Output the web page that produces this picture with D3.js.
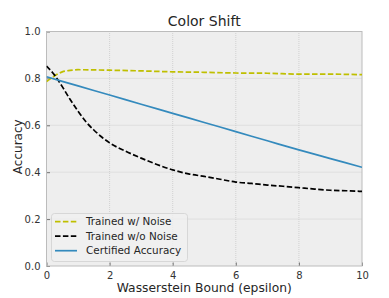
<!DOCTYPE html>
<html>
<head>
<meta charset="utf-8">
<script src="https://cdn.jsdelivr.net/npm/d3@7"></script>
<style>
  body { margin: 0; background: #fff; }
  text { font-family: "DejaVu Sans", sans-serif; fill: #262626; }
</style>
</head>
<body>
<script>
// values
var epsNoise = [0, 0.25, 0.5, 0.75, 1, 2, 3, 4, 5, 6, 7, 8, 9, 10];
var accNoise = [0.786, 0.81, 0.828, 0.834, 0.837, 0.835, 0.832, 0.828, 0.826, 0.823, 0.822, 0.818, 0.818, 0.816];

var epsPlain = [0, 0.25, 0.5, 0.75, 1, 1.25, 1.5, 1.75, 2, 2.5, 3, 3.5, 4, 4.5, 5, 5.5, 6, 6.5, 7, 7.5, 8, 8.5, 9, 9.5, 10];
var accPlain = [0.853, 0.815, 0.765, 0.71, 0.66, 0.615, 0.58, 0.55, 0.525, 0.49, 0.46, 0.433, 0.41, 0.393, 0.382, 0.37, 0.358, 0.352, 0.345, 0.34, 0.334, 0.328, 0.323, 0.321, 0.318];

var epsCert = [0, 1, 2, 3, 4, 5, 6, 7, 8, 9, 10];
var accCert = [0.807, 0.768, 0.729, 0.690, 0.651, 0.612, 0.573, 0.534, 0.495, 0.458, 0.421];

var xTicks = [0, 2, 4, 6, 8, 10];
var yTicks = [0, 0.2, 0.4, 0.6, 0.8, 1.0];

var seriesNames = ["Trained w/ Noise", "Trained w/o Noise", "Certified Accuracy"];

var width = 389, height = 298;
var margin = {top: 31.5, right: 27, bottom: 32, left: 46.5};

var svg = d3.select("body").append("svg")
    .attr("width", width)
    .attr("height", height);

var x = d3.scaleLinear().domain([0, 10]).range([margin.left, width - margin.right]);
var y = d3.scaleLinear().domain([0, 1]).range([height - margin.bottom, margin.top]);

// plot background
svg.append("rect")
    .attr("x", x(0)).attr("y", y(1))
    .attr("width", x(10) - x(0)).attr("height", y(0) - y(1))
    .attr("fill", "#eeeeee");

// grid
svg.append("g").selectAll("line").data(xTicks.slice(1, -1)).enter().append("line")
    .attr("x1", function(d){ return x(d); }).attr("x2", function(d){ return x(d); })
    .attr("y1", y(0)).attr("y2", y(1))
    .attr("stroke", "#c4c4c4").attr("stroke-width", 0.7).attr("stroke-dasharray", "1,1");
svg.append("g").selectAll("line").data(yTicks.slice(1, -1)).enter().append("line")
    .attr("y1", function(d){ return y(d); }).attr("y2", function(d){ return y(d); })
    .attr("x1", x(0)).attr("x2", x(10))
    .attr("stroke", "#c4c4c4").attr("stroke-width", 0.7).attr("stroke-dasharray", "1,1");

// axes with inward ticks
var xAxis = svg.append("g")
    .attr("transform", "translate(0," + y(0) + ")")
    .call(d3.axisBottom(x).tickValues(xTicks).tickSizeInner(-3.5).tickSizeOuter(0).tickPadding(6)
        .tickFormat(d3.format("d")));
var yAxis = svg.append("g")
    .attr("transform", "translate(" + x(0) + ",0)")
    .call(d3.axisLeft(y).tickValues(yTicks).tickSizeInner(-3.5).tickSizeOuter(0).tickPadding(6)
        .tickFormat(d3.format(".1f")));
[xAxis, yAxis].forEach(function(a){
    a.select(".domain").remove();
    a.selectAll(".tick line").attr("stroke", "#555").attr("stroke-width", 0.8);
    a.selectAll(".tick text").attr("font-size", 10).style("fill", "#333");
});

// frame
svg.append("rect")
    .attr("x", x(0)).attr("y", y(1))
    .attr("width", x(10) - x(0)).attr("height", y(0) - y(1))
    .attr("fill", "none").attr("stroke", "#bcbcbc").attr("stroke-width", 1);

var line = d3.line()
    .x(function(d){ return x(d[0]); })
    .y(function(d){ return y(d[1]); })
    .curve(d3.curveMonotoneX);

var series = [
    {eps: epsNoise, acc: accNoise, color: "#bfbf00", dash: "5.5,2.4"},
    {eps: epsPlain, acc: accPlain, color: "#000000", dash: "5.5,2.4"},
    {eps: epsCert, acc: accCert, color: "#348abd", dash: null}
];

svg.append("clipPath").attr("id", "clip").append("rect")
    .attr("x", x(0)).attr("y", y(1))
    .attr("width", x(10) - x(0)).attr("height", y(0) - y(1));

series.forEach(function(s){
    svg.append("path")
        .datum(d3.zip(s.eps, s.acc))
        .attr("d", line)
        .attr("fill", "none")
        .attr("stroke", s.color)
        .attr("stroke-width", 1.7)
        .attr("stroke-dasharray", s.dash)
        .attr("clip-path", "url(#clip)");
});

// legend
var lg = svg.append("g");
lg.append("rect")
    .attr("x", 51.5).attr("y", 213.5).attr("width", 136).attr("height", 48)
    .attr("rx", 3)
    .attr("fill", "#f0f0f0").attr("fill-opacity", 0.8)
    .attr("stroke", "#d0d0d0").attr("stroke-width", 0.8);
seriesNames.forEach(function(name, i){
    var cy = 221.7 + i * 14.5;
    lg.append("line")
        .attr("x1", 55).attr("x2", 77).attr("y1", cy).attr("y2", cy)
        .attr("stroke", series[i].color).attr("stroke-width", 1.7)
        .attr("stroke-dasharray", series[i].dash);
    lg.append("text")
        .attr("x", 86).attr("y", cy).attr("dy", "0.35em")
        .attr("font-size", 10.4)
        .text(name);
});

// title and labels
svg.append("text")
    .attr("x", (x(0) + x(10)) / 2).attr("y", 26)
    .attr("text-anchor", "middle").attr("font-size", 14)
    .text("Color Shift");
svg.append("text")
    .attr("x", (x(0) + x(10)) / 2).attr("y", 292)
    .attr("text-anchor", "middle").attr("font-size", 12.3)
    .text("Wasserstein Bound (epsilon)");
svg.append("text")
    .attr("transform", "translate(21.5," + ((y(0) + y(1)) / 2 - 2) + ") rotate(-90)")
    .attr("text-anchor", "middle").attr("font-size", 12)
    .text("Accuracy");
</script>
</body>
</html>
